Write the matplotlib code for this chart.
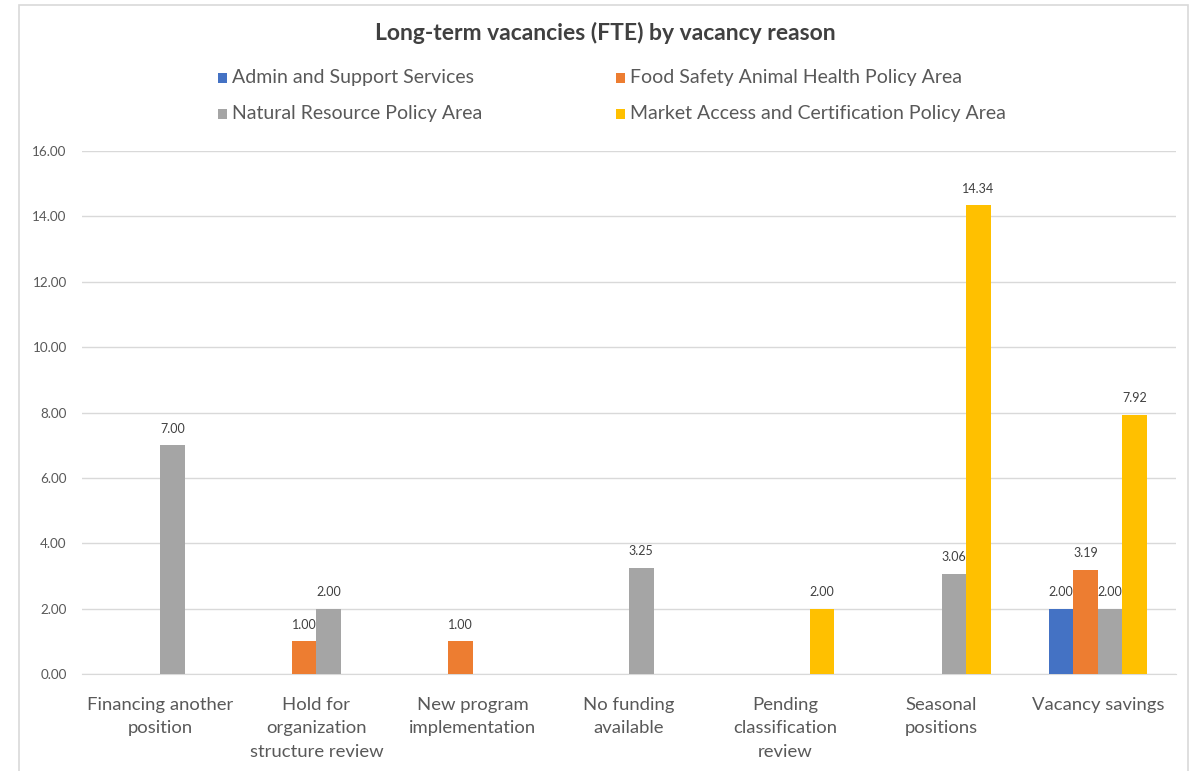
import matplotlib
matplotlib.use("Agg")
import matplotlib.pyplot as plt
from matplotlib.patches import Rectangle
import numpy as np

plt.rcParams['font.family'] = ['Lato', 'DejaVu Sans']

categories = ["Financing another\nposition", "Hold for\norganization\nstructure review",
              "New program\nimplementation", "No funding\navailable",
              "Pending\nclassification\nreview", "Seasonal\npositions", "Vacancy savings"]
series_names = ["Admin and Support Services", "Food Safety Animal Health Policy Area",
                "Natural Resource Policy Area", "Market Access and Certification Policy Area"]
admin = [0, 0, 0, 0, 0, 0, 2.00]
food_safety = [0, 1.00, 1.00, 0, 0, 0, 3.19]
natural_resource = [7.00, 2.00, 0, 3.25, 0, 3.06, 2.00]
market_access = [0, 0, 0, 0, 2.00, 14.34, 7.92]
yticks = [0, 2, 4, 6, 8, 10, 12, 14, 16]

colors = ["#4472C4", "#ED7D31", "#A5A5A5", "#FFC000"]
all_series = [admin, food_safety, natural_resource, market_access]

W, H = 1196, 771
fig = plt.figure(figsize=(W / 100, H / 100), dpi=100)
fig.patch.set_facecolor("white")

# chart border
fig.patches.append(Rectangle((19 / W, -0.05), (1188 - 19) / W, (H - 5) / H + 0.05,
                             transform=fig.transFigure, fill=False,
                             edgecolor="#d9d9d9", linewidth=1.2))

ax = fig.add_axes([82 / W, (H - 674) / H, (1176 - 82) / W, (674 - 151) / H])
x = np.arange(len(categories))
bw = 0.157
offsets = (np.arange(4) - 1.5) * bw
for s, (vals, c) in enumerate(zip(all_series, colors)):
    v = np.array(vals, dtype=float)
    mask = v > 0
    ax.bar(x[mask] + offsets[s], v[mask], width=bw, color=c, zorder=3)
    for xi, vi in zip(x[mask] + offsets[s], v[mask]):
        ax.annotate(f"{vi:.2f}", (xi, vi), xytext=(0, 12), textcoords="offset points",
                    ha="center", va="center", fontsize=9, color="#404040", zorder=4)

ax.set_xlim(-0.5, len(categories) - 0.5)
ax.set_ylim(0, 16)
ax.set_yticks(yticks)
ax.set_yticklabels([f"{t:.2f}" for t in yticks])
ax.grid(axis="y", color="#d9d9d9", linewidth=1, zorder=0)
ax.set_xticks(x)
ax.set_xticklabels(categories, linespacing=1.58)
ax.tick_params(axis="x", length=0, pad=16.5, labelsize=13.3, labelcolor="#595959")
ax.tick_params(axis="y", length=0, pad=11, labelsize=9.7, labelcolor="#595959")
for sp in ["top", "right", "left"]:
    ax.spines[sp].set_visible(False)
ax.spines["bottom"].set_color("#d9d9d9")

fig.text(605 / W, 1 - 33 / H, "Long-term vacancies (FTE) by vacancy reason",
         ha="center", va="center", fontsize=16.5, fontweight="bold", color="#404040")

leg_pos = [(218, 78), (616, 78), (218, 114), (616, 114)]
for (lx, ly), name, c in zip(leg_pos, series_names, colors):
    fig.patches.append(Rectangle((lx / W, 1 - (ly + 5) / H), 9 / W, 10 / H,
                                 transform=fig.transFigure, facecolor=c, edgecolor="none"))
    fig.text((lx + 14) / W, 1 - ly / H, name, ha="left", va="center",
             fontsize=14, color="#595959")

fig.savefig("out.png", dpi=100)
